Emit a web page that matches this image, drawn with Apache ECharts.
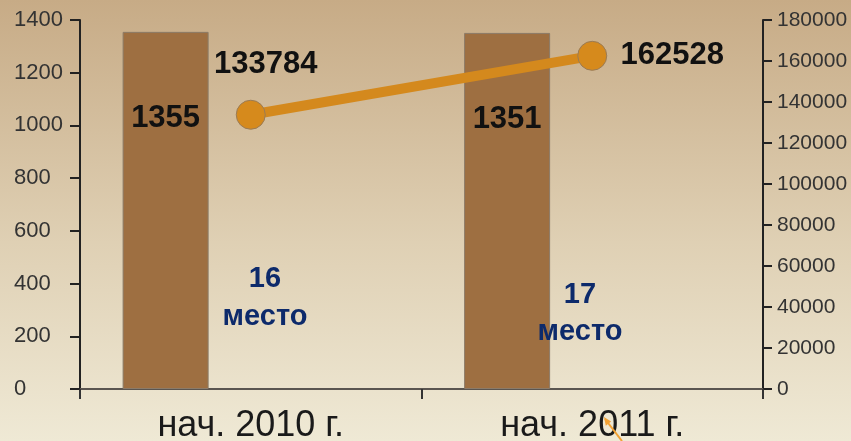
<!DOCTYPE html>
<html>
<head>
<meta charset="utf-8">
<script src="https://cdn.jsdelivr.net/npm/echarts@6/dist/echarts.min.js"></script>
<style>html,body{margin:0;padding:0;}#c{width:851px;height:441px;}</style>
</head>
<body>
<div id="c"></div>
<script>
var categories = ['нач. 2010 г.', 'нач. 2011 г.'];
var barValues = [1355, 1351];
var lineValues = [133784, 162528];
var ranks = ['16\nместо', '17\nместо'];

var FONT = '"Liberation Sans", Arial, sans-serif';
var plain = function (v) { return String(v); };
var chart = echarts.init(document.getElementById('c'));
chart.setOption({
  animation: false,
  textStyle: {fontFamily: FONT},
  backgroundColor: new echarts.graphic.LinearGradient(0, 0, 0, 1, [
    {offset: 0, color: '#C7AB86'},
    {offset: 0.55, color: '#DFD0B4'},
    {offset: 1, color: '#EFE9D5'}
  ]),
  grid: {left: 80, right: 88, top: 20, bottom: 52, outerBoundsMode: 'none', containLabel: false},
  xAxis: {
    type: 'category',
    data: categories,
    boundaryGap: true,
    axisLine: {show: true, lineStyle: {color: '#5a5550', width: 2}},
    axisTick: {show: true, length: 10, lineStyle: {color: '#333', width: 2}},
    axisLabel: {fontSize: 36, color: '#1a1a1a', fontFamily: FONT, margin: 19}
  },
  yAxis: [{
    type: 'value', min: 0, max: 1400, interval: 200,
    axisLine: {show: true, lineStyle: {color: '#222', width: 2}},
    axisTick: {show: true, length: 10, lineStyle: {color: '#222', width: 2}},
    axisLabel: {fontSize: 22, color: '#333', fontFamily: FONT, align: 'left', margin: 66, formatter: plain},
    splitLine: {show: false}
  }, {
    type: 'value', min: 0, max: 180000, interval: 20000, position: 'right',
    axisLine: {show: true, lineStyle: {color: '#222', width: 2}},
    axisTick: {show: true, length: 9, lineStyle: {color: '#222', width: 2}},
    axisLabel: {fontSize: 21, color: '#333', fontFamily: FONT, margin: 14, formatter: plain},
    splitLine: {show: false}
  }],
  series: [{
    type: 'bar',
    data: barValues,
    barWidth: 86,
    barGap: '98%',
    yAxisIndex: 0,
    itemStyle: {color: '#9E6F41', borderColor: '#8C7B68', borderWidth: 1},
    label: {show: true, position: 'insideTop', distance: 71, fontSize: 31, fontWeight: 'bold', color: '#111', fontFamily: FONT}
  }, {
    type: 'bar',
    data: ['-', '-'],
    barWidth: 86,
    yAxisIndex: 0
  }, {
    type: 'line',
    data: lineValues.map(function (v, i) {
      return {
        value: v,
        label: i === 0 ? {offset: [15, -50], position: 'inside'} : {offset: [80, 0], position: 'inside'}
      };
    }),
    yAxisIndex: 1,
    symbol: 'circle',
    symbolSize: 29,
    lineStyle: {color: '#D4891D', width: 10},
    itemStyle: {color: '#D68A1C', borderColor: '#9A7B55', borderWidth: 1},
    label: {show: true, fontSize: 31, fontWeight: 'bold', color: '#111', fontFamily: FONT},
    z: 5
  }],
  graphic: [{
    type: 'text', x: 265, y: 260, z: 10,
    style: {text: ranks[0], textAlign: 'center', textVerticalAlign: 'top', font: 'bold 29px ' + FONT, lineHeight: 38, fill: '#0D2A6B'}
  }, {
    type: 'text', x: 580, y: 276, z: 10,
    style: {text: ranks[1], textAlign: 'center', textVerticalAlign: 'top', font: 'bold 29px ' + FONT, lineHeight: 37, fill: '#0D2A6B'}
  }, {
    type: 'line', z: 10,
    shape: {x1: 622, y1: 441, x2: 605, y2: 419},
    style: {stroke: '#F2A134', lineWidth: 2}
  }, {
    type: 'polygon', z: 10,
    shape: {points: [[604, 417], [605.8, 425.8], [611.1, 421.6]]},
    style: {fill: '#F2A134'}
  }]
});
</script>
</body>
</html>
